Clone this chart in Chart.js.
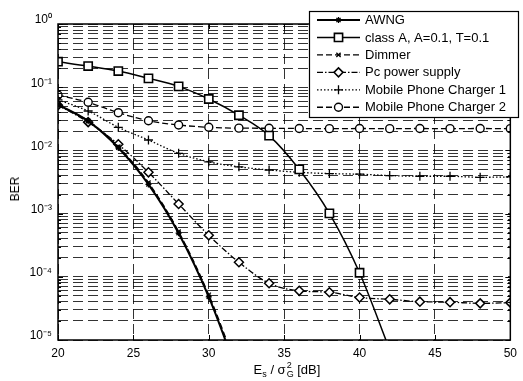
<!DOCTYPE html>
<html><head><meta charset="utf-8">
<script src="https://cdn.jsdelivr.net/npm/chart.js@4.4.1/dist/chart.umd.min.js"></script>
<style>
html,body{margin:0;padding:0;background:#fff;}
#wrap{position:relative;width:523px;height:381px;font-family:'Liberation Sans',Arial,sans-serif;color:#000;}
canvas{position:absolute;left:0;top:0;}
#ytitle{position:absolute;left:15px;top:189px;transform:translate(-50%,-50%) rotate(-90deg);font-size:12px;white-space:nowrap;}
#xtitle{position:absolute;left:58px;width:458px;top:361px;text-align:center;font-size:13px;line-height:13px;white-space:nowrap;}
.sub{font-size:9px;vertical-align:-3px;}
.stk{display:inline-block;vertical-align:-3px;font-size:9px;line-height:9px;text-align:left;margin-left:1px;}
.stk span{display:block;}
</style></head>
<body>
<div id="wrap">
<canvas id="c" width="523" height="381"></canvas>
<div id="ytitle">BER</div>
<div id="xtitle">E<span class="sub">s</span> / σ<span class="stk"><span>2</span><span>G</span></span> [dB]</div>
</div>
<script>
// ---- data ----
const berX      = [20,22,24,26,28,30,32,34,36,38,40,42,44,46,48,50];
const awng      = [0.053,0.029,0.011,0.0029,0.00049,0.000048,0.0000026,null,null,null,null,null,null,null,null,null];
const classA    = [0.253,0.216,0.18,0.138,0.103,0.065,0.036,0.0171,0.005,0.00101,0.000116,0.000007,null,null,null,null];
const dimmer    = [0.052,0.0295,0.0115,0.0031,0.00052,0.000052,0.000003,null,null,null,null,null,null,null,null,null];
const pcSupply  = [0.052,0.028,0.0125,0.0045,0.00142,0.000453,0.00017,0.000079,0.00006,0.000057,0.000047,0.000044,0.0000404,0.0000397,0.000038,0.000039];
const charger1  = [0.063,0.042,0.0232,0.0146,0.009,0.0066,0.0055,0.0049,0.0045,0.0043,0.0042,0.0040,0.0039,0.0039,0.00375,0.0038];
const charger2  = [0.075,0.0577,0.0395,0.0295,0.0252,0.0232,0.0225,0.0224,0.0222,0.0221,0.0222,0.0221,0.0222,0.0221,0.0222,0.0221];
const seriesNames = ['AWNG','class A, A=0.1, T=0.1','Dimmer','Pc power supply','Mobile Phone Charger 1','Mobile Phone Charger 2'];
const xTickValues = [20,25,30,35,40,45,50];
const yDecades    = [1e-5,1e-4,1e-3,1e-2,1e-1,1];
const yTickLabels = ['10⁻⁵','10⁻⁴','10⁻³','10⁻²','10⁻¹','10⁰'];

const FONT = "'Liberation Sans', Arial, sans-serif";
function pts(arr){ return berX.map((x,i)=>({x:x,y:arr[i]})).filter(p=>p.y!==null); }

function mk(label, arr, o){
  return Object.assign({
    label: label, data: pts(arr), borderColor:'#000', backgroundColor:'#fff',
    pointBorderColor:'#000', pointBackgroundColor:'#fff', pointBorderWidth:1.3,
    cubicInterpolationMode:'monotone', fill:false, pointHoverRadius:0
  }, o);
}
const datasets = [
  mk(seriesNames[0], awng,     {borderWidth:2,   borderDash:[],        pointStyle:'star',     pointRadius:3}),
  mk(seriesNames[1], classA,   {borderWidth:1.5, borderDash:[],        pointStyle:'rect',     pointRadius:5.8, pointBorderWidth:1.6}),
  mk(seriesNames[2], dimmer,   {borderWidth:1.3, borderDash:[6,3],     pointStyle:'crossRot', pointRadius:3}),
  mk(seriesNames[3], pcSupply, {borderWidth:1.3, borderDash:[6,2,1.5,2], pointStyle:'rectRot', pointRadius:4.5, pointBorderWidth:1.5}),
  mk(seriesNames[4], charger1, {borderWidth:1.3, borderDash:[1.5,2],   pointStyle:'cross',    pointRadius:4.5}),
  mk(seriesNames[5], charger2, {borderWidth:1.3, borderDash:[6,3],     pointStyle:'circle',   pointRadius:4, pointBorderWidth:1.4})
];

function drawMarker(ctx, style, x, y, r){
  const c = Math.SQRT1_2 * r;
  ctx.beginPath();
  if(style==='rect'){ ctx.rect(x-c,y-c,2*c,2*c); ctx.fill(); ctx.stroke(); return; }
  if(style==='circle'){ ctx.arc(x,y,r,0,Math.PI*2); ctx.fill(); ctx.stroke(); return; }
  if(style==='rectRot'){ ctx.moveTo(x-r,y); ctx.lineTo(x,y-r); ctx.lineTo(x+r,y); ctx.lineTo(x,y+r); ctx.closePath(); ctx.fill(); ctx.stroke(); return; }
  if(style==='cross' || style==='star'){ ctx.moveTo(x-r,y); ctx.lineTo(x+r,y); ctx.moveTo(x,y-r); ctx.lineTo(x,y+r); }
  if(style==='crossRot' || style==='star'){ ctx.moveTo(x-c,y-c); ctx.lineTo(x+c,y+c); ctx.moveTo(x-c,y+c); ctx.lineTo(x+c,y-c); }
  ctx.stroke();
}

const framePlugin = {
  id:'frame',
  afterDatasetsDraw(chart){
    const ctx = chart.ctx, a = chart.chartArea, xs = chart.scales.x, ys = chart.scales.y;
    ctx.save();
    ctx.setLineDash([]); ctx.strokeStyle='#000'; ctx.lineWidth=1.5;
    ctx.strokeRect(a.left, a.top, a.right-a.left, a.bottom-a.top);
    ctx.lineWidth=1;
    ctx.beginPath();
    xTickValues.forEach(v=>{
      const px = Math.round(xs.getPixelForValue(v))+0.5;
      ctx.moveTo(px,a.bottom); ctx.lineTo(px,a.bottom-5);
      ctx.moveTo(px,a.top); ctx.lineTo(px,a.top+5);
    });
    ys.ticks.forEach(t=>{
      const py = Math.round(ys.getPixelForValue(t.value))+0.5;
      const isMajor = yDecades.some(d=>Math.abs(d-t.value)/d<1e-6);
      const len = isMajor?5:3;
      ctx.moveTo(a.left,py); ctx.lineTo(a.left+len,py);
      ctx.moveTo(a.right,py); ctx.lineTo(a.right-len,py);
    });
    ctx.stroke();
    ctx.restore();
  },
  afterDraw(chart){
    const ctx = chart.ctx;
    const bx=309, by=11, bw=209, bh=106;
    ctx.save();
    ctx.setLineDash([]);
    ctx.fillStyle='#fff'; ctx.fillRect(bx,by,bw,bh);
    ctx.strokeStyle='#000'; ctx.lineWidth=1.2; ctx.strokeRect(bx+0.5,by+0.5,bw,bh);
    chart.data.datasets.forEach((ds,i)=>{
      const yy = 20 + i*17.45;
      ctx.strokeStyle='#000'; ctx.lineWidth=ds.borderWidth; ctx.setLineDash(ds.borderDash||[]);
      ctx.beginPath(); ctx.moveTo(317,yy); ctx.lineTo(360,yy); ctx.stroke();
      ctx.setLineDash([]); ctx.lineWidth=ds.pointBorderWidth; ctx.fillStyle='#fff';
      drawMarker(ctx, ds.pointStyle, 338.5, yy, ds.pointRadius);
      ctx.fillStyle='#000'; ctx.font='13px '+FONT; ctx.textBaseline='middle'; ctx.textAlign='left';
      ctx.fillText(ds.label, 365, yy+0.5);
    });
    ctx.restore();
  }
};

new Chart(document.getElementById('c'), {
  type:'line',
  data:{ datasets: datasets },
  plugins:[framePlugin],
  options:{
    responsive:false, animation:false, devicePixelRatio:1,
    layout:{ padding:{ top:24, right:7, left:0, bottom:0 } },
    plugins:{ legend:{display:false}, tooltip:{enabled:false} },
    events:[],
    scales:{
      x:{
        type:'linear', min:20, max:50,
        afterFit(s){ s.height = 41; },
        afterBuildTicks(s){ s.ticks = xTickValues.map(v=>({value:v})); },
        ticks:{ stepSize:5, autoSkip:false, maxRotation:0, padding:6, color:'#000', font:{family:FONT,size:12} },
        grid:{ color:'rgba(0,0,0,0.8)', lineWidth:1, drawTicks:false },
        border:{ display:false, dash:[10,5] }
      },
      y:{
        type:'logarithmic', min:1e-5, max:1,
        afterFit(s){ s.width = 58; },
        afterBuildTicks(s){
          const t=[];
          for(let k=0;k<yDecades.length-1;k++){ for(let m=1;m<=9;m++){ t.push({value:m*yDecades[k]}); } }
          t.push({value:yDecades[yDecades.length-1]});
          s.ticks = t;
        },
        ticks:{
          autoSkip:false, padding:6, labelOffset:-4, color:'#000', font:{family:FONT,size:12},
          callback(v){ const i = yDecades.findIndex(d=>Math.abs(d-v)/d<1e-6); return i>=0 ? yTickLabels[i] : ''; }
        },
        grid:{ color:'rgba(0,0,0,0.8)', lineWidth:1, drawTicks:false },
        border:{ display:false, dash:[10,5] }
      }
    }
  }
});
</script>
</body></html>
